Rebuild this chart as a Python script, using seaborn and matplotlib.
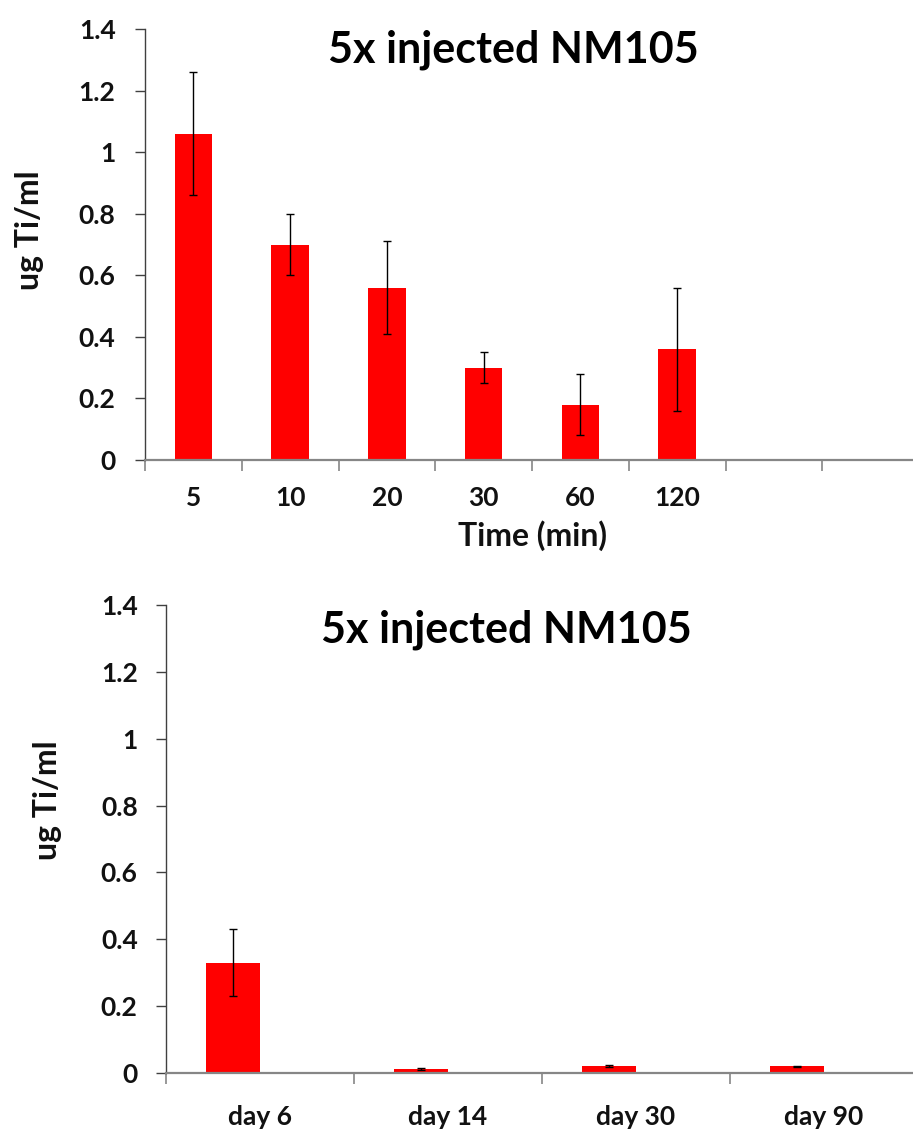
import numpy as np
import pandas as pd
import matplotlib
matplotlib.use("Agg")
import matplotlib.pyplot as plt
import seaborn as sns
from matplotlib.ticker import FixedLocator

# ---- data ----
title_text = "5x injected NM105"
y_label = "ug Ti/ml"
x_label_top = "Time (min)"

time_labels = ["5", "10", "20", "30", "60", "120"]
time_means = [1.06, 0.70, 0.56, 0.30, 0.18, 0.36]
time_err = [0.20, 0.10, 0.15, 0.05, 0.10, 0.20]

day_labels = ["day 6", "day 14", "day 30", "day 90"]
day_means = [0.33, 0.012, 0.02, 0.02]
day_err = [0.10, 0.002, 0.003, 0.002]

y_ticks = [0, 0.2, 0.4, 0.6, 0.8, 1.0, 1.2, 1.4]
y_tick_labels = ["0", "0.2", "0.4", "0.6", "0.8", "1", "1.2", "1.4"]

sns.set_theme(style="white")
plt.rcParams["font.family"] = ["Lato", "DejaVu Sans"]
plt.rcParams["font.weight"] = "bold"

W, H = 913, 1129
fig = plt.figure(figsize=(W / 100, H / 100), dpi=100)

RED = "#FF0000"
YCOL = "#404040"
XCOL = "#868686"
TICK_FS = 19
TXT = "#111111"


def px_axes(left, right, top, bottom):
    return fig.add_axes([left / W, 1 - bottom / H, (right - left) / W, (bottom - top) / H])


def style_axes(ax, n_slots, xpad, ypad):
    ax.set_ylim(0, 1.4)
    ax.set_xlim(-0.5, n_slots - 0.5)
    ax.set_yticks(y_ticks)
    ax.set_yticklabels(y_tick_labels, fontsize=TICK_FS, fontweight="bold", color=TXT)
    for s in ["top", "right"]:
        ax.spines[s].set_visible(False)
    ax.spines["left"].set_color(YCOL)
    ax.spines["left"].set_linewidth(1.0)
    ax.spines["bottom"].set_color(XCOL)
    ax.spines["bottom"].set_linewidth(1.6)
    ax.tick_params(axis="y", which="major", direction="out", length=7.2, width=1.0,
                   color=YCOL, pad=ypad, left=True)
    ax.tick_params(axis="x", which="major", length=0, pad=xpad, labelsize=TICK_FS)
    ax.xaxis.set_minor_locator(FixedLocator(np.arange(-0.5, n_slots, 1.0)))
    ax.tick_params(axis="x", which="minor", direction="out", length=8, width=1.2,
                   color=XCOL, bottom=True)
    ax.set_xlabel("")
    ax.set_ylabel("")
    ax.grid(False)


# ---- top chart ----
ax1 = px_axes(145, 919, 29, 460)
df_time = pd.DataFrame({"time": time_labels, "value": time_means})
sns.barplot(data=df_time, x="time", y="value", order=time_labels, color=RED,
            saturation=1, width=0.39, errorbar=None, ax=ax1, edgecolor="none")
style_axes(ax1, 8, xpad=19, ypad=14)
ax1.set_xticks(range(len(time_labels)))
ax1.set_xticklabels(time_labels, fontsize=TICK_FS, fontweight="bold", color=TXT)
bars = ax1.containers[0]
xc = [b.get_x() + b.get_width() / 2 for b in bars]
ax1.errorbar(xc, time_means, yerr=time_err, fmt="none", ecolor="black",
             elinewidth=1.0, capsize=3, capthick=1.0)

# ---- bottom chart ----
ax2 = px_axes(165.7, 917.7, 605, 1073)
df_day = pd.DataFrame({
    "day": day_labels * 2,
    "value": list(day_means) + [np.nan] * len(day_labels),
    "series": ["NM105"] * len(day_labels) + ["blank"] * len(day_labels),
})
sns.barplot(data=df_day, x="day", y="value", hue="series", hue_order=["NM105", "blank"],
            order=day_labels, palette=[RED, RED], saturation=1, width=0.568,
            dodge=True, errorbar=None, legend=False, ax=ax2, edgecolor="none")
style_axes(ax2, 4, xpad=23, ypad=13)
ax2.set_xticks(range(len(day_labels)))
ax2.set_xticklabels(day_labels, fontsize=TICK_FS, fontweight="bold", color=TXT)
bars2 = ax2.containers[0]
xc2 = [b.get_x() + b.get_width() / 2 for b in bars2]
ax2.errorbar(xc2, day_means, yerr=day_err, fmt="none", ecolor="black",
             elinewidth=1.0, capsize=3, capthick=1.0)

# ---- titles and labels ----
fig.text(513 / W, 1 - 63 / H, title_text, ha="center", va="baseline",
         fontsize=31, fontweight="bold", color="black")
fig.text(506 / W, 1 - 642 / H, title_text, ha="center", va="baseline",
         fontsize=31, fontweight="bold", color="black")
fig.text(532 / W, 1 - 546 / H, x_label_top, ha="center", va="baseline",
         fontsize=23, fontweight="bold", color=TXT)
fig.text(30 / W, 1 - 230 / H, y_label, ha="center", va="center", rotation=90,
         fontsize=23, fontweight="bold", color=TXT)
fig.text(48 / W, 1 - 800 / H, y_label, ha="center", va="center", rotation=90,
         fontsize=23, fontweight="bold", color=TXT)

fig.savefig("out.png", dpi=100, facecolor="white")
